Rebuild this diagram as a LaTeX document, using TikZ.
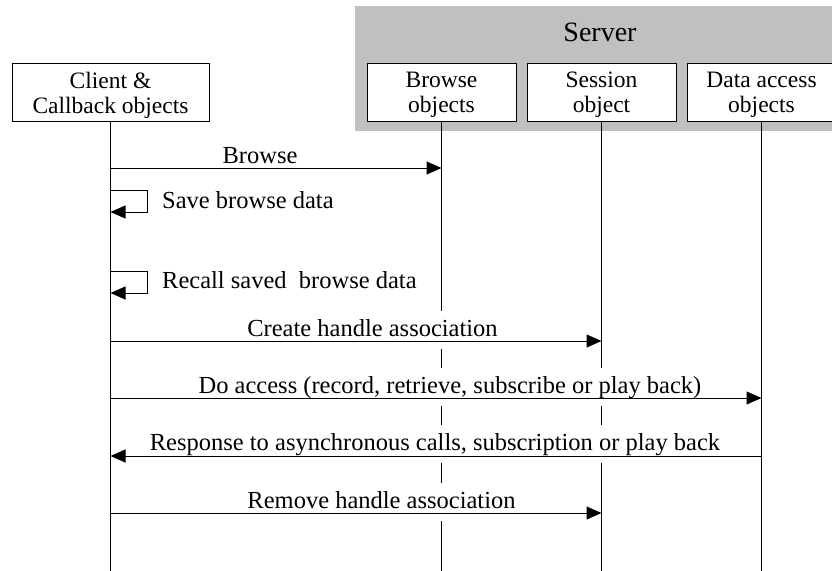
\documentclass[tikz,border=0pt]{standalone}
\usepackage{fontspec}
\setmainfont{Liberation Serif}
\usetikzlibrary{arrows.meta}
\definecolor{servergray}{RGB}{192,192,192}
\begin{document}
\begin{tikzpicture}[x=1pt,y=-1pt,
  obj/.style={draw,line width=1pt,fill=white,minimum width=149pt,minimum height=58pt,inner sep=0pt},
  hdr/.style={align=center,font=\fontsize{23.5}{25}\selectfont,inner sep=0pt},
  life/.style={line width=1pt},
  msg/.style={line width=1pt,-{Triangle[length=15pt,width=13pt]}},
  lbl/.style={fill=white,font=\fontsize{24.5}{26}\selectfont,text height=18pt,
    text depth=6pt,inner xsep=2pt,inner ysep=7pt,anchor=base},
  note/.style={font=\fontsize{24.5}{26}\selectfont,anchor=base west,inner sep=0pt}]
\useasboundingbox (0,0) rectangle (832,570);
% server band
\fill[servergray] (355,6) rectangle (840,131);
\node[font=\fontsize{28}{30}\selectfont] (server) at (600,32) {Server};
% objects
\node[obj,minimum width=197pt] (client) at (110.5,92) {};
\node[obj] (browse) at (441.5,92) {};
\node[obj] (session) at (601.5,92) {};
\node[obj] (data) at (761.5,92) {};
\node[hdr] (clientT) at ([yshift=-3pt]client.center) {Client \&\\Callback objects};
\node[hdr] (browseT) at ([yshift=-3pt]browse.center) {Browse\\objects};
\node[hdr] (sessionT) at ([yshift=-3pt]session.center) {Session\\object};
\node[hdr] (dataT) at ([yshift=-3pt]data.center) {Data access\\objects};
% helper y levels
\coordinate (bottom) at (0,572);
\coordinate (y1) at (0,168);
\coordinate (y2a) at (0,190);
\coordinate (y2b) at (0,212);
\coordinate (y3a) at (0,271);
\coordinate (y3b) at (0,293);
\coordinate (y4) at (0,341);
\coordinate (y5) at (0,398);
\coordinate (y6) at (0,456);
\coordinate (y7) at (0,513);
% lifelines
\draw[life] (client.south) -- (client.south |- bottom);
\draw[life] (browse.south) -- (browse.south |- bottom);
\draw[life] (session.south) -- (session.south |- bottom);
\draw[life] (data.south) -- (data.south |- bottom);
% message labels
\node[lbl] (l1) at (260,163) {Browse};
\node[note] (l2) at (162,208) {Save browse data};
\node[note] (l3) at (162,288) {Recall saved\ \ browse data};
\node[lbl] (l4) at (372.5,336) {Create handle association};
\node[lbl] (l5) at (450,393) {Do access (record, retrieve, subscribe or play back)};
\node[lbl] (l6) at (435,450) {Response to asynchronous calls, subscription or play back};
\node[lbl] (l7) at (381.5,508) {Remove handle association};
% loop corners
\coordinate (c2a) at (147,190);
\coordinate (c2b) at (147,212);
\coordinate (c3a) at (147,271);
\coordinate (c3b) at (147,293);
% messages
\draw[msg] (client.south |- y1) -- (browse.south |- y1);
\draw[msg] (client.south |- y2a) -- (c2a) -- (c2b) -- (client.south |- y2b);
\draw[msg] (client.south |- y3a) -- (c3a) -- (c3b) -- (client.south |- y3b);
\draw[msg] (client.south |- y4) -- (session.south |- y4);
\draw[msg] (client.south |- y5) -- (data.south |- y5);
\draw[msg] (data.south |- y6) -- (client.south |- y6);
\draw[msg] (client.south |- y7) -- (session.south |- y7);
\end{tikzpicture}
\end{document}
